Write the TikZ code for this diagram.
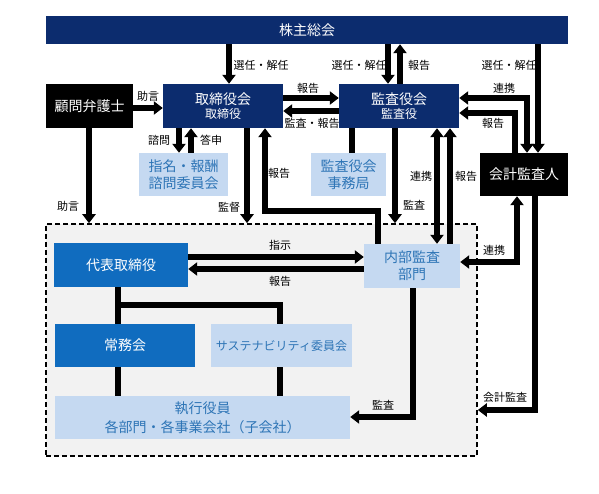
\documentclass[tikz,border=0pt]{standalone}
\usepackage{fontspec}
\setmainfont{Noto Sans CJK JP}
\usetikzlibrary{arrows.meta}
\definecolor{navy}{HTML}{0C2C6E}
\definecolor{midblue}{HTML}{106CBF}
\definecolor{lightblue}{HTML}{C5D9F1}
\definecolor{lbtext}{HTML}{2E75B6}
\definecolor{contgray}{HTML}{F2F2F2}
\begin{document}
\begin{tikzpicture}[x=1pt,y=-1pt,
  box/.style={rectangle,inner sep=0pt,align=center,font=\fontsize{14}{17}\selectfont},
  navybox/.style={box,fill=navy,text=white},
  blackbox/.style={box,fill=black,text=white},
  midbox/.style={box,fill=midblue,text=white},
  lightbox/.style={box,fill=lightblue,text=lbtext},
  arr/.style={line width=5.5pt,-{Triangle[width=13pt,length=9pt]}},
  darr/.style={line width=5.5pt,{Triangle[width=13pt,length=9pt]}-{Triangle[width=13pt,length=9pt]}},
  ln/.style={line width=5.5pt},
  lab/.style={font=\fontsize{11}{12}\selectfont,inner sep=0pt}]
\useasboundingbox (0,0) rectangle (599,494);
% container
\node[rectangle,draw=black,fill=contgray,dash pattern=on 5pt off 3pt,line width=1.6pt,minimum width=431pt,minimum height=232pt] (cont) at (261.5,340) {};
% boxes
\node[navybox,minimum width=522pt,minimum height=28pt] (sh) at (307,30) {株主総会};
\node[blackbox,minimum width=87pt,minimum height=44pt] (adv) at (89.5,106) {顧問弁護士};
\node[navybox,minimum width=120pt,minimum height=44pt] (bod) at (223,106) {取締役会\\[-3pt]{\fontsize{12}{14}\selectfont 取締役}};
\node[navybox,minimum width=120pt,minimum height=44pt] (kan) at (399,106) {監査役会\\[-3pt]{\fontsize{12}{14}\selectfont 監査役}};
\node[blackbox,minimum width=88pt,minimum height=43pt] (acc) at (524,174.5) {会計監査人};
\node[lightbox,minimum width=89pt,minimum height=43pt] (nom) at (183.5,174.5) {指名・報酬\\諮問委員会};
\node[lightbox,minimum width=75pt,minimum height=43pt] (sec) at (348.5,174.5) {監査役会\\事務局};
\node[midbox,minimum width=134pt,minimum height=44pt] (rep) at (121,265) {代表取締役};
\node[lightbox,minimum width=96pt,minimum height=44pt] (ia) at (412,266) {内部監査\\部門};
\node[midbox,minimum width=140pt,minimum height=43pt] (jm) at (125,345.5) {常務会};
\node[lightbox,minimum width=141pt,minimum height=43pt] (sus) at (281.5,345.5) {\fontsize{12}{14}\selectfont サステナビリティ委員会};
\node[lightbox,minimum width=295pt,minimum height=43pt,font=\fontsize{14}{19}\selectfont] (exe) at (202.5,417.5) {執行役員\\各部門・各事業会社（子会社）};
% connectors
\draw[arr] (229,0 |- sh.south) -- (229,0 |- bod.north);
\draw[arr] (388,0 |- sh.south) -- (388,0 |- kan.north);
\draw[arr] (400,0 |- kan.north) -- (400,0 |- sh.south);
\draw[arr] (538,0 |- sh.south) -- (538,0 |- acc.north);
\draw[arr] (adv.east |- 0,108) -- (bod.west |- 0,108);
\draw[arr] (89,0 |- adv.south) -- (89,0 |- cont.north);
\draw[arr] (bod.east |- 0,98) -- (kan.west |- 0,98);
\draw[arr] (kan.west |- 0,111) -- (bod.east |- 0,111);
\draw[arr] (179,0 |- bod.south) -- (179,0 |- nom.north);
\draw[arr] (191,0 |- nom.north) -- (191,0 |- bod.south);
\draw[arr] (247,0 |- bod.south) -- (247,0 |- cont.north);
\draw[arr] (378,0 |- ia.north) -- (378,211) -- (265,211) -- (265,0 |- bod.south);
\draw[ln] (352,0 |- kan.south) -- (352,0 |- sec.north);
\draw[arr] (395,0 |- kan.south) -- (395,0 |- cont.north);
\draw[darr] (437,0 |- kan.south) -- (437,0 |- ia.north);
\draw[arr] (450,0 |- ia.north) -- (450,0 |- kan.south);
\draw[darr] (kan.east |- 0,98) -| (527,0 |- acc.north);
\draw[arr] (515,0 |- acc.north) |- (kan.east |- 0,113);
\draw[darr] (517,0 |- acc.south) |- (ia.east |- 0,262);
\draw[arr] (535,0 |- acc.south) |- (cont.east |- 0,410);
\draw[arr] (413,0 |- ia.south) |- (exe.east |- 0,417);
\draw[arr] (rep.east |- 0,257) -- (ia.west |- 0,257);
\draw[arr] (ia.west |- 0,269) -- (rep.east |- 0,269);
\draw[ln] (118,0 |- rep.south) -- (118,0 |- jm.north);
\draw[ln] (118,305) -| (280,0 |- sus.north);
\draw[ln] (118,0 |- jm.south) -- (118,0 |- exe.north);
\draw[ln] (280,0 |- sus.south) -- (280,0 |- exe.north);
% labels
\node[lab] (l1) at (261,65) {選任・解任};
\node[lab] (l2) at (359,65) {選任・解任};
\node[lab] (l3) at (419,65) {報告};
\node[lab] (l4) at (509,65) {選任・解任};
\node[lab] (l5) at (148,96) {助言};
\node[lab] (l6) at (68,206) {助言};
\node[lab] (l7) at (308,88) {報告};
\node[lab] (l8) at (312,123) {監査・報告};
\node[lab] (l9) at (159,140) {諮問};
\node[lab] (l10) at (211,140) {答申};
\node[lab] (l11) at (229,207) {監督};
\node[lab] (l12) at (279,173) {報告};
\node[lab] (l13) at (414,205) {監査};
\node[lab] (l14) at (421,176) {連携};
\node[lab] (l15) at (466,176) {報告};
\node[lab] (l16) at (504,88) {連携};
\node[lab] (l17) at (493,123) {報告};
\node[lab] (l18) at (494,250) {連携};
\node[lab] (l19) at (505,397) {会計監査};
\node[lab] (l20) at (383,405) {監査};
\node[lab] (l21) at (280,245) {指示};
\node[lab] (l22) at (280,281) {報告};
\end{tikzpicture}
\end{document}
